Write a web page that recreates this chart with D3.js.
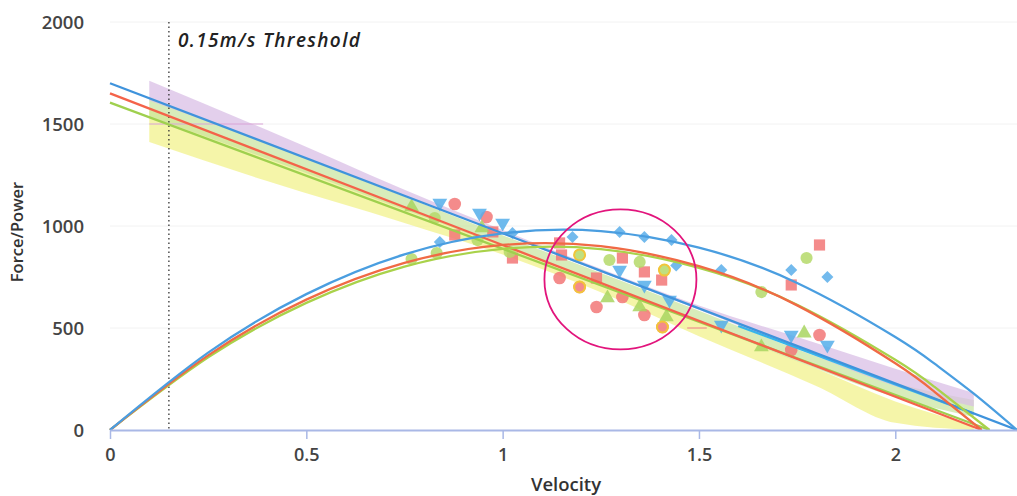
<!DOCTYPE html>
<html><head><meta charset="utf-8">
<script src="https://cdn.jsdelivr.net/npm/d3@7"></script>
<style>
html,body{margin:0;padding:0;background:#fff;}
svg{display:block;font-family:"Open Sans",sans-serif;}
</style></head>
<body><svg id="c" width="1017" height="496"></svg>
<script>
// ---------- data ----------
const xTicks = [0, 0.5, 1, 1.5, 2];
const yTicks = [0, 500, 1000, 1500, 2000];
const xTitle = "Velocity";
const yTitle = "Force/Power";
const thresholdV = 0.15;
const thresholdLabel = "0.15m/s Threshold";

// linear force-velocity fits [velocity, force]
const lineBlue  = [[0, 1700], [2.31, 0]];
const lineRed   = [[0, 1650], [2.22, 0]];
const lineGreen = [[0, 1605], [2.24, 0]];
const lineCyan  = [[1.6, 510], [2.2, 80]];

// power curves [velocity, power]
const powerBlue  = [[0,0],[0.25,379],[0.5,666],[0.75,861],[1,964],[1.25,975],[1.5,894],[1.75,721],[2,456],[2.1,325],[2.2,178],[2.31,0]];
const powerRed   = [[0,0],[0.25,366],[0.5,639],[0.75,819],[1,907],[1.25,901],[1.5,803],[1.75,611],[2,327],[2.1,187],[2.22,0]];
const powerGreen = [[0,0],[0.25,356],[0.5,623],[0.75,801],[1,888],[1.25,887],[1.5,795],[1.75,614],[2,344],[2.1,211],[2.24,0]];

// confidence bands
const bandX        = [0.1, 0.4, 0.75, 1.0, 1.25, 1.5, 1.8, 2.0, 2.2];
const bandPurpleHi = [1712, 1470, 1178, 980, 790, 610, 425, 300, 181];
const bandPurpleLo = [1615, 1405, 1150, 960, 775, 590, 360, 215, 115];
const bandGreenHi  = [1625, 1405, 1145, 955, 770, 585, 360, 230, 147];
const bandGreenLo  = [1535, 1330, 1080, 900, 720, 530, 300, 160, 64];
const bandYellowHi = [1575, 1360, 1090, 905, 720, 530, 300, 140, 25];
const bandYellowLo = [1412, 1220, 1015, 860, 675, 460, 215, 35, 0];

// measured points [velocity, value]
const blueDiamonds = [[0.840,922],[1.025,966],[1.178,946],[1.298,971],[1.361,946],[1.430,931],[1.442,806],[1.557,784],[1.735,784],[1.827,750]];
const blueTriDown  = [[0.840,1113],[0.941,1064],[1.0,1015],[1.298,784],[1.361,711],[1.425,637],[1.557,515],[1.735,466],[1.827,417]];
const redCircles   = [[0.878,1108],[0.959,1044],[1.145,745],[1.196,701],[1.305,652],[1.239,603],[1.361,564],[1.407,505],[1.807,466],[1.735,392]];
const redSquares   = [[0.878,956],[0.975,971],[1.025,843],[1.145,917],[1.150,858],[1.305,843],[1.361,775],[1.239,745],[1.405,735],[1.735,711],[1.807,907]];
const greenCircles = [[0.936,931],[0.827,1039],[1.196,858],[1.272,833],[1.349,824],[1.412,784],[1.659,676],[1.774,843],[0.768,838],[0.832,868],[1.018,873]];
const greenTriUp   = [[0.768,1093],[0.947,990],[1.267,647],[1.349,603],[1.417,554],[1.659,407],[1.768,475]];
const ringedPoints = [[1.196,701],[1.407,505],[1.196,858],[1.412,784]];

// annotation circle centre [velocity, value]
const highlight = [1.30, 738];

// ---------- drawing ----------
const svg = d3.select("#c");
const x = d3.scaleLinear().domain([0, 2.31]).range([110, 1017]);
const y = d3.scaleLinear().domain([0, 2000]).range([430, 22]);

// gridlines
svg.append("g").selectAll("line").data(yTicks.slice(1)).join("line")
  .attr("x1", x(0)).attr("x2", 1017).attr("y1", d => y(d)).attr("y2", d => y(d))
  .attr("stroke", "#f2f2f2").attr("stroke-width", 1);

// bands
function band(hi, lo, color, op) {
  const data = bandX.map((v, i) => ({v, hi: hi[i], lo: lo[i]}));
  const area = d3.area().x(d => x(d.v)).y0(d => y(d.lo)).y1(d => y(d.hi)).curve(d3.curveMonotoneX);
  svg.append("path").datum(data).attr("d", area).attr("fill", color).attr("fill-opacity", op);
}
band(bandYellowHi, bandYellowLo, "#f2f28c", 0.75);
band(bandGreenHi, bandGreenLo, "#c8e49c", 0.7);
band(bandPurpleHi, bandPurpleLo, "#d9bfe6", 0.75);

// small artefact lines
svg.append("line").attr("x1", x(0.1)).attr("x2", x(0.39)).attr("y1", y(1500)).attr("y2", y(1500))
  .attr("stroke", "#d9a4d8").attr("stroke-width", 1.2);
svg.append("line").attr("x1", x(1.47)).attr("x2", x(1.52)).attr("y1", y(500)).attr("y2", y(500))
  .attr("stroke", "#f09090").attr("stroke-width", 1.2);

// threshold
svg.append("line").attr("x1", x(thresholdV)).attr("x2", x(thresholdV)).attr("y1", y(2000)).attr("y2", y(0))
  .attr("stroke", "#333").attr("stroke-width", 1.3).attr("stroke-dasharray", "1.5,3");
svg.append("text").attr("x", x(thresholdV) + 9).attr("y", 47)
  .attr("font-size", 19).attr("font-style", "italic").attr("font-weight", 600)
  .attr("textLength", 182).attr("lengthAdjust", "spacing")
  .attr("fill", "#222").text(thresholdLabel);

// markers
function markers(data, type, color, size, rot) {
  svg.append("g").selectAll("path").data(data).join("path")
    .attr("d", d3.symbol().type(type).size(size))
    .attr("transform", d => `translate(${x(d[0])},${y(d[1])}) rotate(${rot||0})`)
    .attr("fill", color).attr("fill-opacity", 0.85);
}
markers(redSquares, d3.symbolSquare, "#f27777", 125);
markers(redCircles, d3.symbolCircle, "#f27777", 125);
markers(greenCircles, d3.symbolCircle, "#b5d96a", 115);
markers(greenTriUp, d3.symbolTriangle, "#a8d560", 95);
markers(blueDiamonds, d3.symbolSquare, "#5aaeea", 72, 45);
markers(blueTriDown, d3.symbolTriangle, "#55aeea", 95, 180);
svg.append("g").selectAll("circle").data(ringedPoints).join("circle")
  .attr("cx", d => x(d[0])).attr("cy", d => y(d[1])).attr("r", 5.5)
  .attr("fill", "none").attr("stroke", "#f2c53a").attr("stroke-width", 2);

// lines
const ln = d3.line().x(d => x(d[0])).y(d => y(d[1]));
const cv = d3.line().x(d => x(d[0])).y(d => y(d[1])).curve(d3.curveNatural);
function draw(gen, data, color, w) {
  svg.append("path").datum(data).attr("d", gen).attr("fill", "none")
    .attr("stroke", color).attr("stroke-width", w || 2.3);
}
draw(ln, lineGreen, "#9fd04e");
draw(ln, lineRed, "#f4634a");
draw(ln, lineCyan, "#36b4ea");
draw(ln, lineBlue, "#3f93dc");
draw(cv, powerGreen, "#a9d24a");
draw(cv, powerRed, "#f06a45");
draw(cv, powerBlue, "#4a9ee0");

// highlight ellipse
svg.append("ellipse").attr("cx", x(highlight[0])).attr("cy", y(highlight[1]))
  .attr("rx", 76).attr("ry", 70).attr("fill", "none")
  .attr("stroke", "#e2147c").attr("stroke-width", 1.8);

// x axis
const xa = svg.append("g").attr("transform", `translate(0,${y(0)})`)
  .call(d3.axisBottom(x).tickValues(xTicks).tickFormat(d3.format("")).tickSize(9).tickSizeOuter(0).tickPadding(9));
xa.select(".domain").attr("stroke", "#a9b8e6").attr("stroke-width", 2);
xa.selectAll(".tick line").attr("stroke", "#a9b8e6").attr("stroke-width", 1.5);
xa.selectAll(".tick text").attr("font-size", 18).attr("font-weight", 600).attr("fill", "#444")
  .attr("font-family", "Open Sans");

// y labels
svg.append("g").selectAll("text").data(yTicks).join("text")
  .attr("x", 84).attr("y", d => y(d)).attr("dy", "0.36em").attr("text-anchor", "end")
  .attr("font-size", 18.5).attr("font-weight", 600).attr("fill", "#444").text(d => d);

// titles
svg.append("text").attr("x", 566).attr("y", 491).attr("text-anchor", "middle")
  .attr("font-size", 18.5).attr("font-weight", 600).attr("fill", "#333").text(xTitle);
svg.append("text").attr("transform", "translate(23,232) rotate(-90)").attr("text-anchor", "middle")
  .attr("font-size", 16.5).attr("font-weight", 600).attr("fill", "#333").text(yTitle);
</script></body></html>
